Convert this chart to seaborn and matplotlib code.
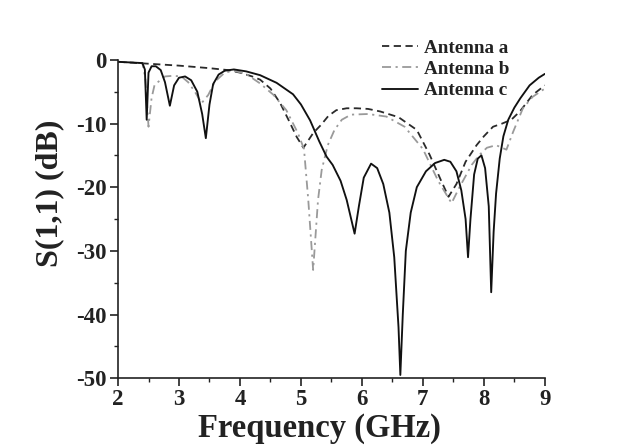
import numpy as np
import pandas as pd
import matplotlib
matplotlib.use("Agg")
import matplotlib.pyplot as plt
import seaborn as sns

# ---------------- data ----------------
freq_a = [2.0, 2.5, 3.0, 3.5, 3.8, 4.0, 4.2, 4.33, 4.5, 4.66, 4.8, 4.93, 5.04,
          5.11, 5.2, 5.33, 5.45, 5.58, 5.75, 5.91, 6.1, 6.3, 6.6, 6.9, 7.11,
          7.3, 7.42, 7.55, 7.7, 7.88, 8.0, 8.15, 8.3, 8.45, 8.59, 8.8, 9.0]
s11_a = [-0.3, -0.6, -0.9, -1.3, -1.6, -2.0, -2.6, -3.1, -4.5, -6.8, -9.5, -12.1, -13.8,
         -12.8, -11.5, -10.2, -8.8, -7.9, -7.6, -7.6, -7.7, -8.1, -9.0, -11.0, -14.9,
         -19.0, -21.5, -19.5, -16.0, -13.4, -12.0, -10.5, -10.0, -9.4, -8.1, -5.5, -4.0]

freq_b = [2.0, 2.4, 2.45, 2.5, 2.55, 2.6, 2.77, 2.9, 3.04, 3.15, 3.26, 3.37, 3.48,
          3.59, 3.75, 3.9, 4.1, 4.33, 4.55, 4.76, 4.95, 5.05, 5.12, 5.2, 5.28,
          5.34, 5.44, 5.55, 5.67, 5.82, 6.1, 6.4, 6.7, 7.0, 7.25, 7.47, 7.6,
          7.8, 7.93, 8.05, 8.2, 8.37, 8.48, 8.64, 8.8, 9.0]
s11_b = [-0.3, -0.5, -3.0, -10.5, -6.0, -3.9, -2.6, -2.5, -2.6, -3.5, -5.0, -6.8, -5.5,
         -3.4, -2.0, -1.7, -2.2, -3.7, -5.5, -7.9, -11.5, -14.0, -22.0, -33.0, -22.0,
         -17.3, -13.4, -11.0, -9.4, -8.6, -8.5, -8.9, -10.5, -14.0, -19.0, -22.5, -20.0,
         -16.5, -14.9, -13.8, -13.4, -14.1, -11.3, -7.6, -5.8, -4.5]

freq_c = [2.0, 2.4, 2.44, 2.47, 2.5, 2.55, 2.62, 2.7, 2.77, 2.85, 2.92, 3.0, 3.1,
          3.2, 3.3, 3.38, 3.44, 3.5, 3.56, 3.65, 3.75, 3.9, 4.1, 4.33, 4.6, 4.87,
          5.0, 5.15, 5.3, 5.42, 5.52, 5.65, 5.75, 5.88, 5.95, 6.03, 6.15, 6.25,
          6.35, 6.45, 6.53, 6.6, 6.63, 6.67, 6.72, 6.8, 6.9, 7.05, 7.2, 7.35,
          7.45, 7.55, 7.63, 7.7, 7.74, 7.78, 7.84, 7.9, 7.96, 8.02, 8.08, 8.12,
          8.16, 8.2, 8.26, 8.32, 8.4, 8.5, 8.6, 8.75, 8.9, 9.0]
s11_c = [-0.3, -0.5, -1.5, -9.4, -2.0, -1.0, -1.0, -1.6, -3.5, -7.2, -4.0, -2.8, -2.6,
         -3.2, -5.0, -8.5, -12.3, -7.0, -3.8, -2.3, -1.7, -1.5, -1.8, -2.4, -3.6, -5.4,
         -7.0, -9.5, -12.8, -15.2, -16.5, -19.0, -22.0, -27.3, -23.0, -18.5, -16.3, -17.0,
         -19.5, -24.0, -31.0, -42.0, -49.5, -40.0, -30.0, -24.0, -20.0, -17.5, -16.2, -15.7,
         -16.0, -17.5, -20.5, -25.0, -31.0, -25.0, -18.0, -15.5, -15.0, -17.0, -23.0, -36.5,
         -27.0, -21.0, -15.5, -12.0, -9.4, -7.5, -6.0, -4.0, -2.8, -2.2]

labels = ["Antenna a", "Antenna b", "Antenna c"]
x_ticks = [2, 3, 4, 5, 6, 7, 8, 9]
y_ticks = [0, -10, -20, -30, -40, -50]

# ---------------- plot ----------------
sns.set_theme(style="white")
plt.rcParams["font.family"] = ["Liberation Serif", "DejaVu Serif"]
plt.rcParams["font.weight"] = "bold"
plt.rcParams["axes.unicode_minus"] = False

fig = plt.figure(figsize=(6.38, 4.47), dpi=100)
ax = fig.add_axes([0.185, 0.154, 0.669, 0.712])

styles = [dict(color="#2a2a2a", linestyle=(0, (4, 2.5)), linewidth=1.3),
          dict(color="#9a9a9a", linestyle=(0, (5, 2.5, 1.2, 2.5)), linewidth=1.3),
          dict(color="#111111", linestyle="-", linewidth=1.35)]

for xs, ys, lab, st in zip([freq_a, freq_b, freq_c], [s11_a, s11_b, s11_c], labels, styles):
    df = pd.DataFrame({"f": xs, "s": ys})
    sns.lineplot(data=df, x="f", y="s", ax=ax, label=lab, **st)

ax.set_xlim(2, 9)
ax.set_ylim(-50, 0)
ax.set_xticks(x_ticks)
ax.set_yticks(y_ticks)
ax.set_xticks(np.arange(2.5, 9, 1.0), minor=True)
ax.set_yticks(np.arange(-45, 0, 10), minor=True)
ax.tick_params(axis="both", which="major", direction="out", length=6, width=1.2,
               labelsize=16.5, colors="#222222", pad=2, left=True, bottom=True)
ax.tick_params(axis="both", which="minor", direction="out", length=3, width=1.0,
               colors="#222222", left=True, bottom=True)
for lbl in ax.get_xticklabels() + ax.get_yticklabels():
    lbl.set_fontweight("bold")

for side in ["top", "right"]:
    ax.spines[side].set_visible(False)
for side in ["left", "bottom"]:
    ax.spines[side].set_color("#222222")
    ax.spines[side].set_linewidth(1.2)

ax.set_xlabel("Frequency (GHz)", fontsize=23.5, fontweight="bold", color="#222222")
ax.set_ylabel("S(1,1) (dB)", fontsize=23, fontweight="bold", color="#222222")
ax.xaxis.set_label_coords(0.473, -0.108)
ax.yaxis.set_label_coords(-0.127, 0.58)

leg = ax.legend(loc="upper right", bbox_to_anchor=(0.81, 0.929),
                bbox_transform=fig.transFigure, frameon=False,
                prop={"family": "Liberation Serif", "weight": "bold", "size": 13.8},
                handlelength=1.9, handletextpad=0.3, labelspacing=0.2, borderaxespad=0)
for t in leg.get_texts():
    t.set_color("#222222")

fig.savefig("out.png", dpi=100, facecolor="white")
